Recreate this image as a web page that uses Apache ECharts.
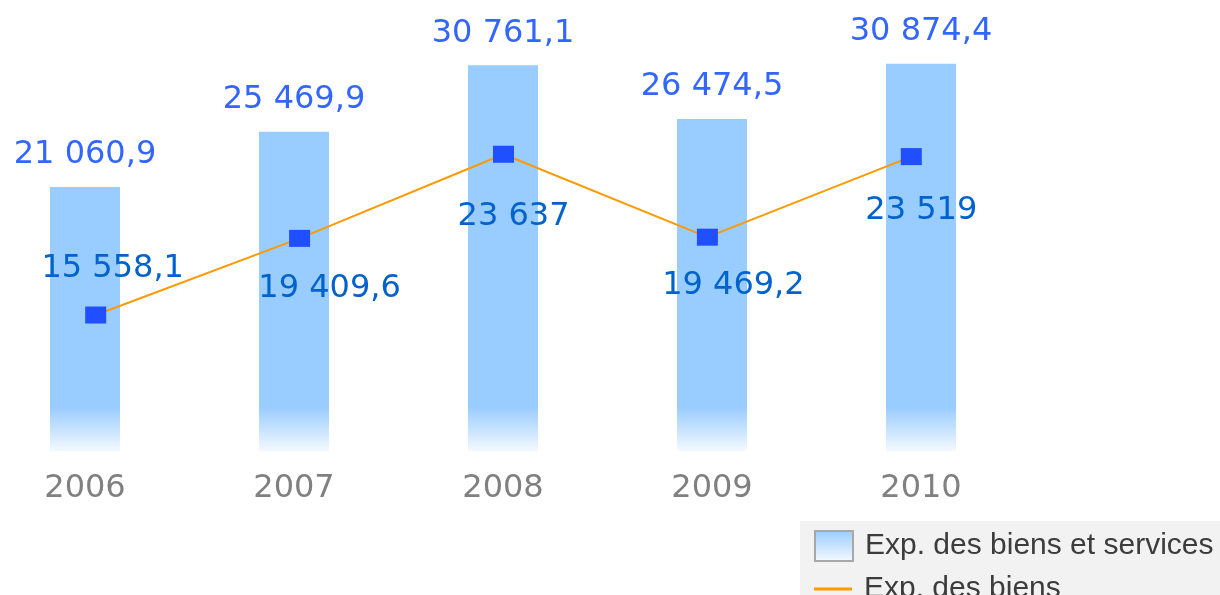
<!DOCTYPE html>
<html><head><meta charset="utf-8">
<script src="https://cdn.jsdelivr.net/npm/echarts@6/dist/echarts.min.js"></script>
<style>html,body{margin:0;padding:0;background:#fff}#c{width:1220px;height:595px}</style>
</head><body><div id="c"></div>
<script>
// ---- data ----
const years = ['2006', '2007', '2008', '2009', '2010'];
const goodsServices = [21060.9, 25469.9, 30761.1, 26474.5, 30874.4];
const goods = [15558.1, 19409.6, 23637, 19469.2, 23519];
const seriesNames = ['Exp. des biens et services', 'Exp. des biens'];

// ---- styling ----
const lineLabelOffsets = [[17, -46], [30, 50], [10, 62], [26, 48], [10, 54]];

function fmt(v) {
  const neg = v < 0; v = Math.abs(v);
  let i, d;
  if (Number.isInteger(v)) { i = String(v); d = null; }
  else { [i, d] = v.toFixed(1).split('.'); }
  i = i.replace(/\B(?=(\d{3})+(?!\d))/g, ' ');
  return (neg ? '-' : '') + i + (d !== null ? ',' + d : '');
}

const chart = echarts.init(document.getElementById('c'), null, {renderer: 'canvas'});
const barGrad = {
  type: 'linear', x: 0, y: 407, x2: 0, y2: 452, global: true,
  colorStops: [{offset: 0, color: '#99ccff'}, {offset: 1, color: '#f6faff'}]
};
const legendText = {fontFamily: 'Liberation Sans', fontSize: 30, color: '#3c3c3c', lineHeight: 30, padding: [0, 0, 0, 7]};
chart.setOption({
  animation: false,
  backgroundColor: '#ffffff',
  graphic: [{
    type: 'rect', left: 800, top: 521, z: 0, silent: true,
    shape: {width: 420, height: 74}, style: {fill: '#f2f2f2'}
  }],
  grid: [
    {left: -19.5, right: 194.5, top: 12, bottom: 143.5, outerBoundsMode: 'none', containLabel: false},
    {left: -6.25, right: 206.75, top: 12, bottom: 143.5, outerBoundsMode: 'none', containLabel: false}
  ],
  xAxis: [
    {type: 'category', gridIndex: 0, data: years,
     axisLine: {show: false}, axisTick: {show: false}, splitLine: {show: false},
     axisLabel: {color: '#808080', fontFamily: 'DejaVu Sans', fontSize: 32, margin: 21}},
    {type: 'category', gridIndex: 1, data: years, show: false}
  ],
  yAxis: [
    {type: 'value', gridIndex: 0, min: 0, max: 35000, show: false, splitLine: {show: false}},
    {type: 'value', gridIndex: 1, min: 8700, max: 30785, show: false, splitLine: {show: false}}
  ],
  legend: [
    {
      orient: 'vertical', left: 814, top: 530, padding: 0, z: 5,
      itemWidth: 38, itemHeight: 30, selectedMode: false, textStyle: legendText,
      data: [{name: seriesNames[0], icon: 'rect',
        itemStyle: {color: {type: 'linear', x: 0, y: 0, x2: 0, y2: 1,
          colorStops: [{offset: 0, color: '#99ccff'}, {offset: 1, color: '#f6faff'}]},
          borderColor: '#a8a8a8', borderWidth: 2}}]
    },
    {
      orient: 'vertical', left: 814, top: 574, padding: 0, z: 5,
      itemWidth: 38, itemHeight: 30, selectedMode: false, textStyle: legendText,
      data: [{name: seriesNames[1], icon: 'path://M0,0L38,0L38,3L0,3Z',
        itemStyle: {color: '#ff9900', borderWidth: 0}}]
    }
  ],
  series: [
    {
      name: seriesNames[0], type: 'bar', xAxisIndex: 0, yAxisIndex: 0,
      barWidth: 70, data: goodsServices,
      itemStyle: {color: barGrad},
      label: {show: true, position: 'top', distance: 16, color: '#3366ff',
        fontFamily: 'DejaVu Sans', fontSize: 32, formatter: p => fmt(p.value)}
    },
    {
      name: seriesNames[1], type: 'line', xAxisIndex: 1, yAxisIndex: 1, z: 3,
      data: goods.map((v, i) => ({value: v, label: {offset: lineLabelOffsets[i]}})),
      symbol: 'rect', symbolSize: [21, 17], showAllSymbol: true,
      itemStyle: {color: '#1f4fff'},
      lineStyle: {color: '#ff9900', width: 2},
      label: {show: true, position: 'inside', color: '#0062cc',
        fontFamily: 'DejaVu Sans', fontSize: 32, formatter: p => fmt(p.value)}
    }
  ]
});
</script>
</body></html>
